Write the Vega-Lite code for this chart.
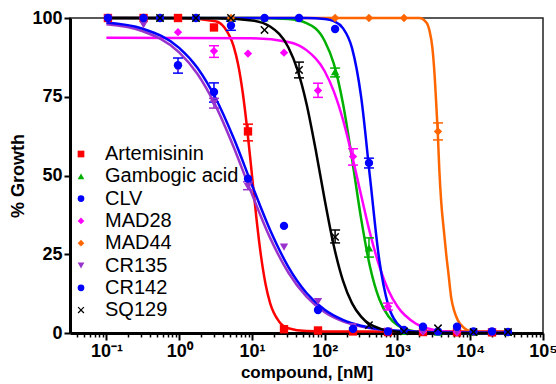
{
  "$schema": "https://vega.github.io/schema/vega-lite/v6.json",
  "width": 473,
  "height": 315,
  "autosize": {"type": "none"},
  "padding": {"left": 70, "top": 18, "right": 13, "bottom": 51},
  "background": "white",
  "config": {
    "font": "Liberation Sans",
    "view": {"stroke": "#222", "strokeWidth": 1.5},
    "axis": {
      "domainColor": "#000", "domainWidth": 3, "tickColor": "#000", "tickWidth": 2,
      "labelFont": "Liberation Sans", "labelFontWeight": "bold", "labelColor": "#000",
      "titleFont": "Liberation Sans", "titleFontWeight": "bold", "titleColor": "#000", "grid": false
    },
    "legend": {"labelFontSize": 20, "labelFont": "Liberation Sans", "labelColor": "#000", "symbolSize": 45, "rowPadding": 2.3, "labelOffset": 14, "padding": 0, "symbolStrokeWidth": 0}
  },
  "datasets": {
    "curves": [
      {"c": "Artemisinin", "x": 0.1, "y": 100}, {"c": "Artemisinin", "x": 1, "y": 100}, {"c": "Artemisinin", "x": 3.162, "y": 99.0}, {"c": "Artemisinin", "x": 4.217, "y": 96.9}, {"c": "Artemisinin", "x": 5.623, "y": 90.9}, {"c": "Artemisinin", "x": 6.494, "y": 85.0}, {"c": "Artemisinin", "x": 7.499, "y": 76.1}, {"c": "Artemisinin", "x": 8.66, "y": 64.2}, {"c": "Artemisinin", "x": 10, "y": 50.3}, {"c": "Artemisinin", "x": 11.55, "y": 36.3}, {"c": "Artemisinin", "x": 13.34, "y": 24.4}, {"c": "Artemisinin", "x": 15.4, "y": 15.5}, {"c": "Artemisinin", "x": 17.78, "y": 9.5}, {"c": "Artemisinin", "x": 23.71, "y": 3.6}, {"c": "Artemisinin", "x": 31.62, "y": 1.5}, {"c": "Artemisinin", "x": 56.23, "y": 0.6}, {"c": "Artemisinin", "x": 100, "y": 0.5}, {"c": "Artemisinin", "x": 31623, "y": 0.5},
      {"c": "MAD44", "x": 0.1, "y": 100}, {"c": "MAD44", "x": 1995, "y": 100}, {"c": "MAD44", "x": 2512, "y": 98.5}, {"c": "MAD44", "x": 2754, "y": 96}, {"c": "MAD44", "x": 3020, "y": 90.5}, {"c": "MAD44", "x": 3236, "y": 82}, {"c": "MAD44", "x": 3388, "y": 74}, {"c": "MAD44", "x": 3589, "y": 63}, {"c": "MAD44", "x": 3758, "y": 52}, {"c": "MAD44", "x": 3981, "y": 42}, {"c": "MAD44", "x": 4365, "y": 32}, {"c": "MAD44", "x": 4677, "y": 25}, {"c": "MAD44", "x": 5012, "y": 19}, {"c": "MAD44", "x": 5495, "y": 11}, {"c": "MAD44", "x": 6026, "y": 7}, {"c": "MAD44", "x": 6761, "y": 4}, {"c": "MAD44", "x": 8318, "y": 1.5}, {"c": "MAD44", "x": 10000, "y": 0.6}, {"c": "MAD44", "x": 15849, "y": 0.2}, {"c": "MAD44", "x": 31623, "y": 0},
      {"c": "Gambogic acid", "x": 0.1, "y": 100}, {"c": "Gambogic acid", "x": 10, "y": 100}, {"c": "Gambogic acid", "x": 31.62, "y": 99.65}, {"c": "Gambogic acid", "x": 56.23, "y": 98.4}, {"c": "Gambogic acid", "x": 100, "y": 92.7}, {"c": "Gambogic acid", "x": 133.4, "y": 85.5}, {"c": "Gambogic acid", "x": 177.8, "y": 73.0}, {"c": "Gambogic acid", "x": 237.1, "y": 55.4}, {"c": "Gambogic acid", "x": 316.2, "y": 36.4}, {"c": "Gambogic acid", "x": 421.7, "y": 20.8}, {"c": "Gambogic acid", "x": 562.3, "y": 10.8}, {"c": "Gambogic acid", "x": 749.9, "y": 5.3}, {"c": "Gambogic acid", "x": 1000, "y": 2.5}, {"c": "Gambogic acid", "x": 1778, "y": 0.5}, {"c": "Gambogic acid", "x": 3162, "y": 0.1}, {"c": "Gambogic acid", "x": 31623, "y": 0},
      {"c": "MAD28", "x": 0.1, "y": 93.7}, {"c": "MAD28", "x": 10, "y": 93.55}, {"c": "MAD28", "x": 31.62, "y": 92.4}, {"c": "MAD28", "x": 56.23, "y": 89.8}, {"c": "MAD28", "x": 100, "y": 83.1}, {"c": "MAD28", "x": 133.4, "y": 76.7}, {"c": "MAD28", "x": 177.8, "y": 67.8}, {"c": "MAD28", "x": 237.1, "y": 56.4}, {"c": "MAD28", "x": 316.2, "y": 43.8}, {"c": "MAD28", "x": 421.7, "y": 31.5}, {"c": "MAD28", "x": 562.3, "y": 21.3}, {"c": "MAD28", "x": 749.9, "y": 13.6}, {"c": "MAD28", "x": 1000, "y": 8.4}, {"c": "MAD28", "x": 1778, "y": 3.0}, {"c": "MAD28", "x": 3162, "y": 1.0}, {"c": "MAD28", "x": 5623, "y": 0.35}, {"c": "MAD28", "x": 10000, "y": 0.12}, {"c": "MAD28", "x": 31623, "y": 0.01},
      {"c": "CLV", "x": 0.1, "y": 100}, {"c": "CLV", "x": 56.23, "y": 100}, {"c": "CLV", "x": 100, "y": 99.7}, {"c": "CLV", "x": 133.4, "y": 99.0}, {"c": "CLV", "x": 177.8, "y": 96.8}, {"c": "CLV", "x": 237.1, "y": 90.5}, {"c": "CLV", "x": 316.2, "y": 75.1}, {"c": "CLV", "x": 421.7, "y": 48.9}, {"c": "CLV", "x": 562.3, "y": 23.2}, {"c": "CLV", "x": 749.9, "y": 8.7}, {"c": "CLV", "x": 1000, "y": 2.9}, {"c": "CLV", "x": 1334, "y": 0.95}, {"c": "CLV", "x": 1778, "y": 0.3}, {"c": "CLV", "x": 3162, "y": 0.03}, {"c": "CLV", "x": 31623, "y": 0},
      {"c": "CR135", "x": 0.1, "y": 98.0}, {"c": "CR135", "x": 0.3162, "y": 95.8}, {"c": "CR135", "x": 1, "y": 89.1}, {"c": "CR135", "x": 1.778, "y": 82.3}, {"c": "CR135", "x": 3.162, "y": 72.2}, {"c": "CR135", "x": 5.623, "y": 59.0}, {"c": "CR135", "x": 10, "y": 44.1}, {"c": "CR135", "x": 17.78, "y": 30.2}, {"c": "CR135", "x": 31.62, "y": 19.2}, {"c": "CR135", "x": 56.23, "y": 11.5}, {"c": "CR135", "x": 100, "y": 6.6}, {"c": "CR135", "x": 177.8, "y": 3.7}, {"c": "CR135", "x": 316.2, "y": 2.07}, {"c": "CR135", "x": 562.3, "y": 1.14}, {"c": "CR135", "x": 1000, "y": 0.64}, {"c": "CR135", "x": 3162, "y": 0.19}, {"c": "CR135", "x": 10000, "y": 0.05}, {"c": "CR135", "x": 31623, "y": 0.02},
      {"c": "CR142", "x": 0.1, "y": 98.6}, {"c": "CR142", "x": 0.3162, "y": 96.6}, {"c": "CR142", "x": 1, "y": 90.5}, {"c": "CR142", "x": 1.778, "y": 84.2}, {"c": "CR142", "x": 3.162, "y": 74.6}, {"c": "CR142", "x": 5.623, "y": 61.8}, {"c": "CR142", "x": 10, "y": 47.0}, {"c": "CR142", "x": 17.78, "y": 32.7}, {"c": "CR142", "x": 31.62, "y": 21.0}, {"c": "CR142", "x": 56.23, "y": 12.7}, {"c": "CR142", "x": 100, "y": 7.35}, {"c": "CR142", "x": 177.8, "y": 4.15}, {"c": "CR142", "x": 316.2, "y": 2.31}, {"c": "CR142", "x": 562.3, "y": 1.28}, {"c": "CR142", "x": 1000, "y": 0.7}, {"c": "CR142", "x": 3162, "y": 0.21}, {"c": "CR142", "x": 10000, "y": 0.06}, {"c": "CR142", "x": 31623, "y": 0.02},
      {"c": "SQ129", "x": 0.1, "y": 100}, {"c": "SQ129", "x": 3.162, "y": 99.9}, {"c": "SQ129", "x": 10, "y": 99.24}, {"c": "SQ129", "x": 17.78, "y": 97.3}, {"c": "SQ129", "x": 31.62, "y": 90.7}, {"c": "SQ129", "x": 42.17, "y": 83.6}, {"c": "SQ129", "x": 56.23, "y": 72.8}, {"c": "SQ129", "x": 74.99, "y": 58.3}, {"c": "SQ129", "x": 100, "y": 42.3}, {"c": "SQ129", "x": 133.4, "y": 27.7}, {"c": "SQ129", "x": 177.8, "y": 16.7}, {"c": "SQ129", "x": 237.1, "y": 9.5}, {"c": "SQ129", "x": 316.2, "y": 5.2}, {"c": "SQ129", "x": 562.3, "y": 1.48}, {"c": "SQ129", "x": 1000, "y": 0.41}, {"c": "SQ129", "x": 3162, "y": 0.03}, {"c": "SQ129", "x": 31623, "y": 0}
    ],
    "pts": [
      {"c": "Artemisinin", "x": 0.105, "y": 100}, {"c": "Artemisinin", "x": 0.324, "y": 100}, {"c": "Artemisinin", "x": 0.964, "y": 100}, {"c": "Artemisinin", "x": 3.01, "y": 97}, {"c": "Artemisinin", "x": 8.83, "y": 64}, {"c": "Artemisinin", "x": 27.6, "y": 1.2}, {"c": "Artemisinin", "x": 80.9, "y": 0.8}, {"c": "Artemisinin", "x": 245, "y": 0.5}, {"c": "Artemisinin", "x": 741, "y": 0.3}, {"c": "Artemisinin", "x": 2244, "y": 0.3}, {"c": "Artemisinin", "x": 6577, "y": 0.2}, {"c": "Artemisinin", "x": 19910, "y": 0.2},
      {"c": "Gambogic acid", "x": 0.546, "y": 100}, {"c": "Gambogic acid", "x": 1.7, "y": 100}, {"c": "Gambogic acid", "x": 5.15, "y": 100}, {"c": "Gambogic acid", "x": 14.9, "y": 100}, {"c": "Gambogic acid", "x": 44.4, "y": 100}, {"c": "Gambogic acid", "x": 139, "y": 83}, {"c": "Gambogic acid", "x": 406, "y": 27}, {"c": "Gambogic acid", "x": 1230, "y": 0.5}, {"c": "Gambogic acid", "x": 3606, "y": 0.3}, {"c": "Gambogic acid", "x": 11090, "y": 0.2}, {"c": "Gambogic acid", "x": 33040, "y": 0.2},
      {"c": "MAD44", "x": 0.546, "y": 100}, {"c": "MAD44", "x": 1.7, "y": 100}, {"c": "MAD44", "x": 5.15, "y": 100}, {"c": "MAD44", "x": 14.9, "y": 100}, {"c": "MAD44", "x": 44.4, "y": 100}, {"c": "MAD44", "x": 139, "y": 100}, {"c": "MAD44", "x": 406, "y": 100}, {"c": "MAD44", "x": 1230, "y": 100}, {"c": "MAD44", "x": 3606, "y": 64}, {"c": "MAD44", "x": 11090, "y": 0.2}, {"c": "MAD44", "x": 33040, "y": 0.2},
      {"c": "MAD28", "x": 0.105, "y": 100}, {"c": "MAD28", "x": 0.324, "y": 100}, {"c": "MAD28", "x": 0.964, "y": 95.5}, {"c": "MAD28", "x": 3.01, "y": 89.5}, {"c": "MAD28", "x": 8.83, "y": 88.7}, {"c": "MAD28", "x": 27.6, "y": 89}, {"c": "MAD28", "x": 80.9, "y": 77}, {"c": "MAD28", "x": 245, "y": 56}, {"c": "MAD28", "x": 741, "y": 8.4}, {"c": "MAD28", "x": 2244, "y": 0.5}, {"c": "MAD28", "x": 6577, "y": 0.3}, {"c": "MAD28", "x": 19910, "y": 0.3},
      {"c": "CR135", "x": 0.105, "y": 100}, {"c": "CR135", "x": 0.324, "y": 97.8}, {"c": "CR135", "x": 0.964, "y": 84}, {"c": "CR135", "x": 3.01, "y": 73}, {"c": "CR135", "x": 8.83, "y": 46.5}, {"c": "CR135", "x": 27.6, "y": 27.3}, {"c": "CR135", "x": 80.9, "y": 10}, {"c": "CR135", "x": 245, "y": 2}, {"c": "CR135", "x": 741, "y": 0.5}, {"c": "CR135", "x": 2244, "y": 0.3}, {"c": "CR135", "x": 6577, "y": 0.3}, {"c": "CR135", "x": 19910, "y": 0.3},
      {"c": "CLV", "x": 0.546, "y": 100}, {"c": "CLV", "x": 1.7, "y": 100}, {"c": "CLV", "x": 5.15, "y": 97.6}, {"c": "CLV", "x": 14.9, "y": 100}, {"c": "CLV", "x": 44.4, "y": 100}, {"c": "CLV", "x": 139, "y": 96.5}, {"c": "CLV", "x": 406, "y": 54}, {"c": "CLV", "x": 1230, "y": 1}, {"c": "CLV", "x": 3606, "y": 0.5}, {"c": "CLV", "x": 11090, "y": 0.5}, {"c": "CLV", "x": 33040, "y": 0.3},
      {"c": "CR142", "x": 0.105, "y": 100}, {"c": "CR142", "x": 0.324, "y": 100}, {"c": "CR142", "x": 0.964, "y": 85}, {"c": "CR142", "x": 3.01, "y": 76.5}, {"c": "CR142", "x": 8.83, "y": 49}, {"c": "CR142", "x": 27.6, "y": 34}, {"c": "CR142", "x": 80.9, "y": 7.3}, {"c": "CR142", "x": 245, "y": 1.3}, {"c": "CR142", "x": 741, "y": 0.5}, {"c": "CR142", "x": 2244, "y": 2}, {"c": "CR142", "x": 6577, "y": 2}, {"c": "CR142", "x": 19910, "y": 0.5},
      {"c": "SQ129", "x": 0.546, "y": 100}, {"c": "SQ129", "x": 1.7, "y": 100}, {"c": "SQ129", "x": 5.15, "y": 100}, {"c": "SQ129", "x": 14.9, "y": 96.2}, {"c": "SQ129", "x": 44.4, "y": 83.5}, {"c": "SQ129", "x": 139, "y": 30.5}, {"c": "SQ129", "x": 406, "y": 2.5}, {"c": "SQ129", "x": 1230, "y": 0.5}, {"c": "SQ129", "x": 3606, "y": 1.5}, {"c": "SQ129", "x": 11090, "y": 0.3}, {"c": "SQ129", "x": 33040, "y": 0.3}
    ],
    "errs": [
      {"c": "Artemisinin", "x": 8.83, "lo": 61, "hi": 66.3},
      {"c": "Gambogic acid", "x": 139, "lo": 81.3, "hi": 84.1},
      {"c": "Gambogic acid", "x": 406, "lo": 24.1, "hi": 30.2},
      {"c": "CLV", "x": 5.15, "lo": 96.1, "hi": 99},
      {"c": "CLV", "x": 406, "lo": 52.4, "hi": 55.5},
      {"c": "MAD28", "x": 3.01, "lo": 87.5, "hi": 91.2},
      {"c": "MAD28", "x": 80.9, "lo": 74.8, "hi": 79.3},
      {"c": "MAD28", "x": 245, "lo": 53.3, "hi": 58.5},
      {"c": "MAD28", "x": 741, "lo": 7.3, "hi": 9.5},
      {"c": "MAD44", "x": 3606, "lo": 61.3, "hi": 66.7},
      {"c": "CR135", "x": 3.01, "lo": 71.4, "hi": 74.5},
      {"c": "CR135", "x": 8.83, "lo": 45.5, "hi": 48},
      {"c": "CR142", "x": 0.964, "lo": 82.5, "hi": 87.3},
      {"c": "CR142", "x": 3.01, "lo": 73.3, "hi": 79.4},
      {"c": "SQ129", "x": 44.4, "lo": 81, "hi": 86},
      {"c": "SQ129", "x": 139, "lo": 28.6, "hi": 32.7}
    ]
  },
  "layer": [
    {
      "data": {"name": "curves"},
      "mark": {"type": "line", "strokeWidth": 2.5, "interpolate": "monotone"},
      "encoding": {
        "x": {
          "field": "x", "type": "quantitative",
          "scale": {"type": "log", "domain": [0.0316228, 100000], "nice": false},
          "axis": {
            "title": "compound, [nM]", "titleFontSize": 17, "titlePadding": 4,
            "values": [0.04, 0.05, 0.06, 0.07, 0.08, 0.09, 0.1, 0.2, 0.3, 0.4, 0.5, 0.6, 0.7, 0.8, 0.9, 1, 2, 3, 4, 5, 6, 7, 8, 9, 10, 20, 30, 40, 50, 60, 70, 80, 90, 100, 200, 300, 400, 500, 600, 700, 800, 900, 1000, 2000, 3000, 4000, 5000, 6000, 7000, 8000, 9000, 10000, 20000, 30000, 40000, 50000, 60000, 70000, 80000, 90000, 100000],
            "labelExpr": "abs(log(datum.value)/LN10 - round(log(datum.value)/LN10)) < 0.01 ? '10' + ['⁻¹','⁰','¹','²','³','⁴','⁵'][round(log(datum.value)/LN10)+1] : ''",
            "tickSize": {"condition": {"test": "abs(log(datum.value)/LN10 - round(log(datum.value)/LN10)) < 0.01", "value": 7}, "value": 4},
            "tickWidth": {"condition": {"test": "abs(log(datum.value)/LN10 - round(log(datum.value)/LN10)) < 0.01", "value": 2}, "value": 1.5},
            "labelFontSize": 18, "labelPadding": 2, "labelFlush": false, "labelOverlap": false
          }
        },
        "y": {
          "field": "y", "type": "quantitative",
          "scale": {"domain": [0, 100], "nice": false},
          "axis": {"title": "% Growth", "titleFontSize": 18, "titlePadding": 4, "values": [0, 25, 50, 75, 100], "labelFontSize": 18, "tickSize": 6, "labelPadding": 2}
        },
        "stroke": {
          "field": "c", "type": "nominal",
          "scale": {
            "domain": ["Artemisinin", "CLV", "CR135", "CR142", "Gambogic acid", "MAD28", "MAD44", "SQ129"],
            "range": ["#FF0000", "#0000FF", "#9933CC", "#0000FF", "#00B000", "#FF00FF", "#FF6600", "#000000"]
          },
          "legend": null
        }
      }
    },
    {
      "data": {"name": "errs"},
      "mark": {"type": "rule", "strokeWidth": 1.5},
      "encoding": {
        "x": {"field": "x", "type": "quantitative"},
        "y": {"field": "lo", "type": "quantitative", "title": "% Growth"},
        "y2": {"field": "hi"},
        "stroke": {"field": "c", "type": "nominal", "legend": null}
      }
    },
    {
      "data": {"name": "errs"},
      "mark": {"type": "point", "shape": "M-1,0L1,0", "filled": false, "size": 100, "strokeWidth": 1.5, "opacity": 1},
      "encoding": {
        "x": {"field": "x", "type": "quantitative"},
        "y": {"field": "lo", "type": "quantitative", "title": "% Growth"},
        "stroke": {"field": "c", "type": "nominal", "legend": null}
      }
    },
    {
      "data": {"name": "errs"},
      "mark": {"type": "point", "shape": "M-1,0L1,0", "filled": false, "size": 100, "strokeWidth": 1.5, "opacity": 1},
      "encoding": {
        "x": {"field": "x", "type": "quantitative"},
        "y": {"field": "hi", "type": "quantitative", "title": "% Growth"},
        "stroke": {"field": "c", "type": "nominal", "legend": null}
      }
    },
    {
      "data": {"name": "pts"},
      "mark": {"type": "point", "filled": true, "size": 70, "opacity": 1},
      "encoding": {
        "x": {"field": "x", "type": "quantitative", "title": "compound, [nM]"},
        "y": {"field": "y", "type": "quantitative", "title": "% Growth"},
        "color": {
          "field": "c", "type": "nominal",
          "scale": {
            "domain": ["Artemisinin", "Gambogic acid", "CLV", "MAD28", "MAD44", "CR135", "CR142", "SQ129"],
            "range": ["#FF0000", "#00B000", "#0000FF", "#FF00FF", "#FF6600", "#9933CC", "#0000FF", "#000000"]
          },
          "legend": {"orient": "none", "legendX": 1, "legendY": 126, "title": null}
        },
        "shape": {
          "field": "c", "type": "nominal",
          "scale": {
            "domain": ["Artemisinin", "Gambogic acid", "CLV", "MAD28", "MAD44", "CR135", "CR142", "SQ129"],
            "range": ["square", "triangle-up", "circle", "diamond", "diamond", "triangle-down", "circle", "M-1,-0.75L-0.75,-1L0,-0.25L0.75,-1L1,-0.75L0.25,0L1,0.75L0.75,1L0,0.25L-0.75,1L-1,0.75L-0.25,0Z"]
          },
          "legend": {"orient": "none", "legendX": 1, "legendY": 126, "title": null}
        }
      }
    }
  ]
}
